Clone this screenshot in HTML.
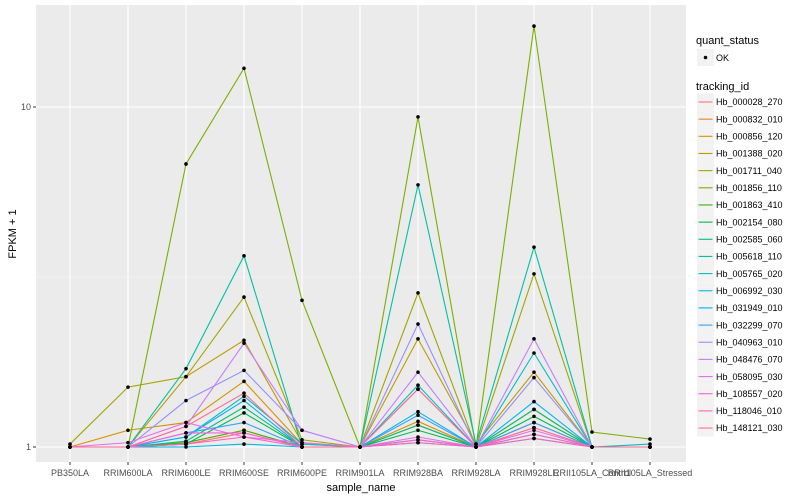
<!DOCTYPE html>
<html><head><meta charset="utf-8"><style>
body{margin:0;background:#fff;font-family:"Liberation Sans",sans-serif}
svg{display:block}
</style></head><body>
<svg id="chart" width="800" height="500">
<rect x="0" y="0" width="800" height="500" fill="#fff"/>
<rect x="36" y="5" width="650" height="457" fill="#EBEBEB"/>
<g id="grid"></g>
<g id="lines"></g>
<g id="points"></g>
<g id="axes"></g>
<g id="legend"></g>
</svg>
<script>
const categories=["PB350LA","RRIM600LA","RRIM600LE","RRIM600SE","RRIM600PE","RRIM901LA","RRIM928BA","RRIM928LA","RRIM928LE","RRII105LA_Control","RRII105LA_Stressed"];
const seriesIds=["Hb_000028_270","Hb_000832_010","Hb_000856_120","Hb_001388_020","Hb_001711_040","Hb_001856_110","Hb_001863_410","Hb_002154_080","Hb_002585_060","Hb_005618_110","Hb_005765_020","Hb_006992_030","Hb_031949_010","Hb_032299_070","Hb_040963_010","Hb_048476_070","Hb_058095_030","Hb_108557_020","Hb_118046_010","Hb_148121_030"];
const seriesColors=["#F8766D","#EA8331","#D89000","#C09B00","#A3A500","#7CAE00","#39B600","#00BB4E","#00BF7D","#00C1A3","#00BFC4","#00BAE0","#00B0F6","#35A2FF","#9590FF","#C77CFF","#E76BF3","#FA62DB","#FF62BC","#FF6C91"];
const s0=[1,1,1.02,1.10,1,1,1.48,1,1.18,1,1];
const s1=[1,1,1.03,1.12,1,1,1.16,1,1.14,1,1];
const s2=[1,1.12,1.18,1.56,1.02,1,1.19,1,1.29,1,1];
const s3=[1,1,1.61,2.06,1.03,1,2.08,1.02,1.66,1,1];
const s4=[1.02,1.5,1.61,2.76,1.05,1,2.84,1,3.23,1,1];
const s5=[1,1,6.8,13.0,2.7,1,9.35,1,17.3,1.107,1.055];
const s6=[1,1,1.03,1.12,1,1,1.05,1,1.09,1,1];
const s7=[1,1,1.02,1.26,1,1,1.12,1,1.23,1,1];
const s8=[1,1,1.04,1.31,1,1,1.16,1,1.29,1,1];
const s9=[1,1,1.70,3.65,1,1,5.9,1.02,3.87,1,1];
const s10=[1,1,1.07,1.41,1.02,1,1.52,1,1.89,1,1.02];
const s11=[1,1,1,1.02,1,1,1.03,1,1.06,1,1];
const s12=[1,1,1.07,1.37,1,1,1.27,1,1.36,1,1];
const s13=[1,1,1.10,1.18,1,1,1.24,1,1.18,1,1];
const s14=[1,1,1.37,1.68,1.12,1,2.30,1,1.60,1,1];
const s15=[1,1,1.15,2.02,1.12,1,1.66,1,2.08,1,1];
const s16=[1,1.03,1.18,1.07,1.03,1,1.07,1,1.12,1,1];
const s17=[1,1,1.10,1.10,1,1,1.05,1,1.09,1,1];
const s18=[1,1,1.02,1.07,1,1,1.03,1,1.06,1,1];
const s19=[1,1,1.15,1.44,1,1,1.48,1,1.14,1,1];
const seriesValues=[s0,s1,s2,s3,s4,s5,s6,s7,s8,s9,s10,s11,s12,s13,s14,s15,s16,s17,s18,s19];
const yTicks=[1,10];
const yTickLabels=["1","10"];

const NS="http://www.w3.org/2000/svg";
function X(i){return 70+i*58;}
function Y(v){return 447-340*Math.log10(v);}
function mk(tag,attrs,parent){const e=document.createElementNS(NS,tag);for(const k in attrs)e.setAttribute(k,attrs[k]);parent.appendChild(e);return e;}
const grid=document.getElementById('grid'),lines=document.getElementById('lines'),pts=document.getElementById('points'),axes=document.getElementById('axes'),leg=document.getElementById('legend');

// minor grid
const minor=mk('line',{x1:36,x2:686,y1:Y(Math.sqrt(10)),y2:Y(Math.sqrt(10)),stroke:'#F5F5F5','stroke-width':0.6},grid);


yTicks.forEach((t,i)=>{
  const g=mk('line',{x1:36,x2:686,y1:Y(t),y2:Y(t),stroke:'#fff','stroke-width':1.1},grid);
  
  
  const tk=mk('line',{x1:33,x2:36,y1:Y(t),y2:Y(t),stroke:'#333','stroke-width':1},axes);
  
  
  const tl=mk('text',{x:31,y:Y(t)+3,'text-anchor':'end','font-size':9,fill:'#4D4D4D'},axes);
  tl.textContent=yTickLabels[i];
  
  
});
categories.forEach((c,i)=>{
  const g=mk('line',{x1:X(i),x2:X(i),y1:5,y2:462,stroke:'#fff','stroke-width':1.1},grid);
  
  
  const tk=mk('line',{x1:X(i),x2:X(i),y1:462,y2:465,stroke:'#333','stroke-width':1},axes);
  
  
  const tl=mk('text',{x:X(i),y:476,'text-anchor':'middle','font-size':9,fill:'#4D4D4D'},axes);
  tl.textContent=c;
  
  
});
const xt=mk('text',{x:361,y:491,'text-anchor':'middle','font-size':11,fill:'#000'},axes);
xt.textContent='sample_name';


const yt=mk('text',{x:0,y:0,'text-anchor':'middle','font-size':11,fill:'#000',transform:'translate(16,234) rotate(-90)'},axes);
yt.textContent='FPKM + 1';



seriesValues.forEach((vals,si)=>{
  const d=vals.map((v,i)=>(i?'L':'M')+X(i)+','+Y(v)).join(' ');
  const p=mk('path',{d:d,fill:'none',stroke:seriesColors[si],'stroke-width':1.1},lines);
  
  
  vals.forEach((v,i)=>{
    const c=mk('circle',{cx:X(i),cy:Y(v),r:1.8,fill:'#000'},pts);
    
    
  });
});

// legend
const t1=mk('text',{x:696,y:44,'font-size':11,fill:'#000'},leg);
t1.textContent='quant_status';


const kb=mk('rect',{x:697,y:49,width:17,height:17,fill:'#F2F2F2'},leg);


const kd=mk('circle',{cx:705.5,cy:57.5,r:1.8,fill:'#000'},leg);


const ok=mk('text',{x:716,y:61,'font-size':9,fill:'#000'},leg);
ok.textContent='OK';


const t2=mk('text',{x:696,y:90,'font-size':11,fill:'#000'},leg);
t2.textContent='tracking_id';


seriesIds.forEach((id,i)=>{
  const cy=102+i*17.16;
  const r=mk('rect',{x:697,y:cy-8.5,width:17,height:17,fill:'#F2F2F2'},leg);
  
  
  const l=mk('line',{x1:698.5,x2:712.5,y1:cy,y2:cy,stroke:seriesColors[i],'stroke-width':1.1},leg);
  
  
  const t=mk('text',{x:716,y:cy+3.2,'font-size':9,fill:'#000'},leg);
  t.textContent=id;
  
  
});
</script>
</body></html>
